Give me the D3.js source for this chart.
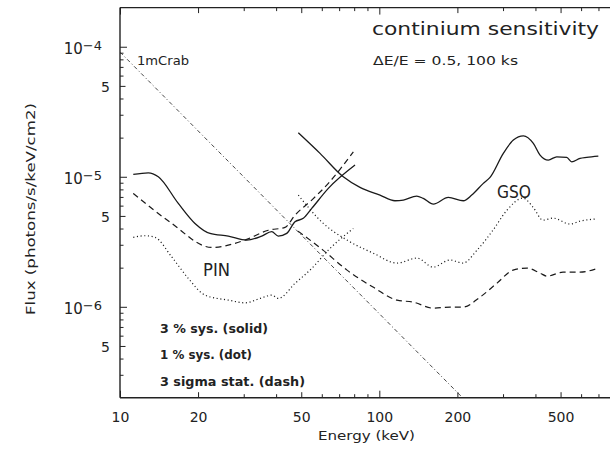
<!DOCTYPE html>
<html><head><meta charset="utf-8">
<script src="https://cdn.jsdelivr.net/npm/d3@7"></script>
<style>
html,body{margin:0;padding:0;background:#fff;}
svg{display:block;font-family:"DejaVu Sans",sans-serif;}
</style></head><body>
<svg id="c" width="610" height="449"></svg>
<script>
// ---- data (Energy keV, Flux photons/s/keV/cm2) ----
const xLabelTicks = [10, 20, 50, 100, 200, 500];
const xMinorTicks = [30, 40, 60, 70, 80, 90, 300, 400, 600, 700];
const yLabelTicks = [1e-4, 5e-5, 1e-5, 5e-6, 1e-6, 5e-7];
const yMinorTicks = [9e-5, 8e-5, 7e-5, 6e-5, 4e-5, 3e-5, 2e-5, 9e-6, 8e-6, 7e-6, 6e-6, 4e-6, 3e-6, 2e-6, 9e-7, 8e-7, 7e-7, 6e-7, 4e-7, 3e-7];

const crab1m = [[10, 9.10e-5], [208.4, 2.02e-7]];

const pinSolid = [[11.25,1.043e-5],[12.86,1.073e-5],[14.05,1.0e-5],[16.78,6.24e-6],[19.46,4.38e-6],[22.24,3.67e-6],[26.16,3.50e-6],[30.81,3.26e-6],[35.2,3.50e-6],[38.46,3.78e-6],[40.78,3.50e-6],[43.95,3.67e-6],[47.3,4.51e-6],[50.91,4.79e-6],[54.87,5.71e-6],[63.59,8.14e-6],[80.6,1.23e-5]];
const pinDash = [[11.25,7.45e-6],[15.59,4.48e-6],[22.58,2.86e-6],[30.34,3.26e-6],[37.32,3.88e-6],[43.28,4.08e-6],[47.3,5.07e-6],[54.87,6.62e-6],[63.59,8.90e-6],[79.4,1.557e-5]];
const pinDot = [[11.25,3.42e-6],[12.49,3.52e-6],[13.65,3.42e-6],[15.83,2.42e-6],[18.34,1.654e-6],[21.27,1.23e-6],[26.16,1.126e-6],[30.34,1.073e-6],[35.2,1.172e-6],[38.46,1.23e-6],[40.78,1.16e-6],[47.3,1.514e-6],[54.87,1.974e-6],[63.59,2.73e-6],[79.4,4.01e-6]];

const gsoSolid = [[48.71,2.18e-5],[59.07,1.514e-5],[72.61,1.0e-5],[84.24,8.29e-6],[100.6,7.23e-6],[114.9,6.54e-6],[123.8,6.62e-6],[139.4,7.10e-6],[147.8,6.82e-6],[161.6,6.17e-6],[184.6,6.94e-6],[210.9,6.54e-6],[227.2,7.23e-6],[251.8,8.90e-6],[267.3,9.89e-6],[300.8,1.514e-5],[328.8,1.915e-5],[359.4,2.066e-5],[392.6,1.806e-5],[416.7,1.469e-5],[448.5,1.344e-5],[483.2,1.425e-5],[528.1,1.41e-5],[552.1,1.304e-5],[594.3,1.385e-5],[630.6,1.41e-5],[699.2,1.443e-5]];
const gsoDot = [[48.71,7.23e-6],[60.66,4.40e-6],[75.07,3.26e-6],[94.56,2.59e-6],[117.0,2.17e-6],[139.8,2.37e-6],[161.1,2.02e-6],[187.4,2.29e-6],[210.3,2.17e-6],[238.2,2.73e-6],[274.5,3.89e-6],[310.8,5.54e-6],[358.4,6.86e-6],[391.5,5.84e-6],[428.0,4.64e-6],[467.6,4.81e-6],[543.8,4.33e-6],[594.3,4.56e-6],[679.0,4.73e-6]];
const gsoDash = [[48.59,3.82e-6],[60.66,2.73e-6],[75.07,1.915e-6],[94.56,1.418e-6],[117.0,1.126e-6],[134.9,1.087e-6],[161.1,9.77e-7],[187.4,9.95e-7],[210.3,9.95e-7],[244.6,1.187e-6],[284.4,1.521e-6],[327.9,1.915e-6],[371.3,1.985e-6],[416.7,1.816e-6],[443.4,1.722e-6],[511.0,1.849e-6],[594.3,1.849e-6],[699.2,1.985e-6]];

// ---- chart ----
const svg = d3.select('#c');
const x = d3.scaleLog().domain([10, 800]).range([120, 613.5]);
const y = d3.scaleLog().domain([2e-7, 2e-4]).range([397.7, 7.6]);
const INK = '#222';

const isDecade = v => Math.abs(Math.log10(v) - Math.round(Math.log10(v))) < 1e-6;
const xLen = d => isDecade(d) ? 7 : (xLabelTicks.includes(d) ? 5.5 : 3.5);
const yLen = d => isDecade(d) ? 7 : (yLabelTicks.includes(d) ? 5.5 : 3.5);

// bottom axis
const bx = svg.append('g').attr('transform', 'translate(0,397.7)')
  .call(d3.axisBottom(x).tickValues(xLabelTicks.concat(xMinorTicks)).tickSizeOuter(0)
    .tickFormat(d => xLabelTicks.includes(d) ? String(d) : ''));
bx.select('.domain').remove();
bx.selectAll('.tick line').attr('y2', d => -xLen(d)).attr('stroke', INK);
bx.selectAll('.tick text').attr('y', 24).attr('dy', 0).attr('font-size', 14)
  .attr('font-family', '"DejaVu Sans",sans-serif').attr('fill', INK);

// top axis
const tx = svg.append('g').attr('transform', 'translate(0,7.6)')
  .call(d3.axisTop(x).tickValues(xLabelTicks.concat(xMinorTicks)).tickSizeOuter(0).tickFormat(''));
tx.select('.domain').remove();
tx.selectAll('.tick line').attr('y2', d => xLen(d)).attr('stroke', INK);

// left axis
const ly = svg.append('g').attr('transform', 'translate(120,0)')
  .call(d3.axisLeft(y).tickValues(yLabelTicks.concat(yMinorTicks)).tickSizeOuter(0).tickFormat(''));
ly.select('.domain').remove();
ly.selectAll('.tick line').attr('x2', d => yLen(d)).attr('stroke', INK);
ly.selectAll('.tick').filter(d => yLabelTicks.includes(d)).each(function(d) {
  const g = d3.select(this);
  g.select('text').remove();
  if (isDecade(d)) {
    const t = g.append('text').attr('text-anchor', 'end').attr('x', -18).attr('y', 6.6)
      .attr('font-size', 15).attr('fill', INK).attr('font-family', '"DejaVu Sans",sans-serif');
    t.append('tspan').text('10');
    t.append('tspan').attr('dy', -3.5).attr('font-size', 13).text('\u2212' + Math.abs(Math.round(Math.log10(d))));
  } else {
    g.append('text').attr('text-anchor', 'end').attr('x', -10).attr('y', 6)
      .attr('font-size', 14).attr('fill', INK).attr('font-family', '"DejaVu Sans",sans-serif')
      .text(String(Math.round(d / Math.pow(10, Math.floor(Math.log10(d))))));
  }
});

// frame
svg.append('line').attr('x1', 120).attr('x2', 120).attr('y1', y.range()[1]).attr('y2', y.range()[0]).attr('stroke', INK).attr('stroke-width', 1.4);
svg.append('line').attr('x1', 120).attr('x2', 613).attr('y1', y.range()[0]).attr('y2', y.range()[0]).attr('stroke', INK).attr('stroke-width', 1.4);
svg.append('line').attr('x1', 120).attr('x2', 613).attr('y1', y.range()[1]).attr('y2', y.range()[1]).attr('stroke', INK).attr('stroke-width', 1.4);

// curves
const clip = svg.append('clipPath').attr('id', 'pl').append('rect')
  .attr('x', 120).attr('y', y.range()[1]).attr('width', 500).attr('height', y.range()[0] - y.range()[1]);
const line = d3.line().x(d => x(d[0])).y(d => y(d[1])).curve(d3.curveMonotoneX);
const plot = svg.append('g').attr('clip-path', 'url(#pl)').attr('fill', 'none');
const styles = {
  solid: {w: 1.3, dash: null, c: '#1a1a1a'},
  dot: {w: 1.2, dash: '1.1,2.6', c: '#1a1a1a'},
  dash: {w: 1.2, dash: '6,4', c: '#1a1a1a'},
  dashdot: {w: 0.9, dash: '4,2.5,1,2.5', c: '#333'}
};
[[crab1m, 'dashdot'], [pinSolid, 'solid'], [pinDash, 'dash'], [pinDot, 'dot'],
 [gsoSolid, 'solid'], [gsoDot, 'dot'], [gsoDash, 'dash']].forEach(([data, s]) => {
  const st = styles[s];
  plot.append('path').attr('d', line(data)).attr('stroke', st.c).attr('stroke-width', st.w)
    .attr('stroke-dasharray', st.dash).attr('stroke-linejoin', 'round');
});

// texts
function txt(str, xx, yy, size, len, opts = {}) {
  const t = svg.append('text').attr('x', xx).attr('y', yy).attr('font-size', size).attr('fill', INK)
    .text(str);
  if (len) t.attr('textLength', len).attr('lengthAdjust', 'spacingAndGlyphs');
  if (opts.bold) t.attr('font-weight', 'bold');
  if (opts.anchor) t.attr('text-anchor', opts.anchor);
  return t;
}
txt('continium sensitivity', 372, 35, 17, 227);
txt('\u0394E/E = 0.5, 100 ks', 373, 65, 12, 145);
txt('1mCrab', 137, 65, 12, 52);
txt('PIN', 203, 276, 17, 27);
txt('GSO', 497, 198, 17, 34);
txt('3 % sys. (solid)', 160, 333, 12.5, 108, {bold: true});
txt('1 % sys. (dot)', 160, 359, 12.5, 92, {bold: true});
txt('3 sigma stat. (dash)', 160, 386, 12.5, 145, {bold: true});
txt('Energy (keV)', 318, 440, 12, 97);
svg.append('text').attr('transform', 'translate(35,209) rotate(-90)').attr('text-anchor', 'middle')
  .attr('font-size', 12).attr('fill', INK).attr('textLength', 212).attr('lengthAdjust', 'spacingAndGlyphs')
  .text('Flux (photons/s/keV/cm2)');
</script>
</body></html>
